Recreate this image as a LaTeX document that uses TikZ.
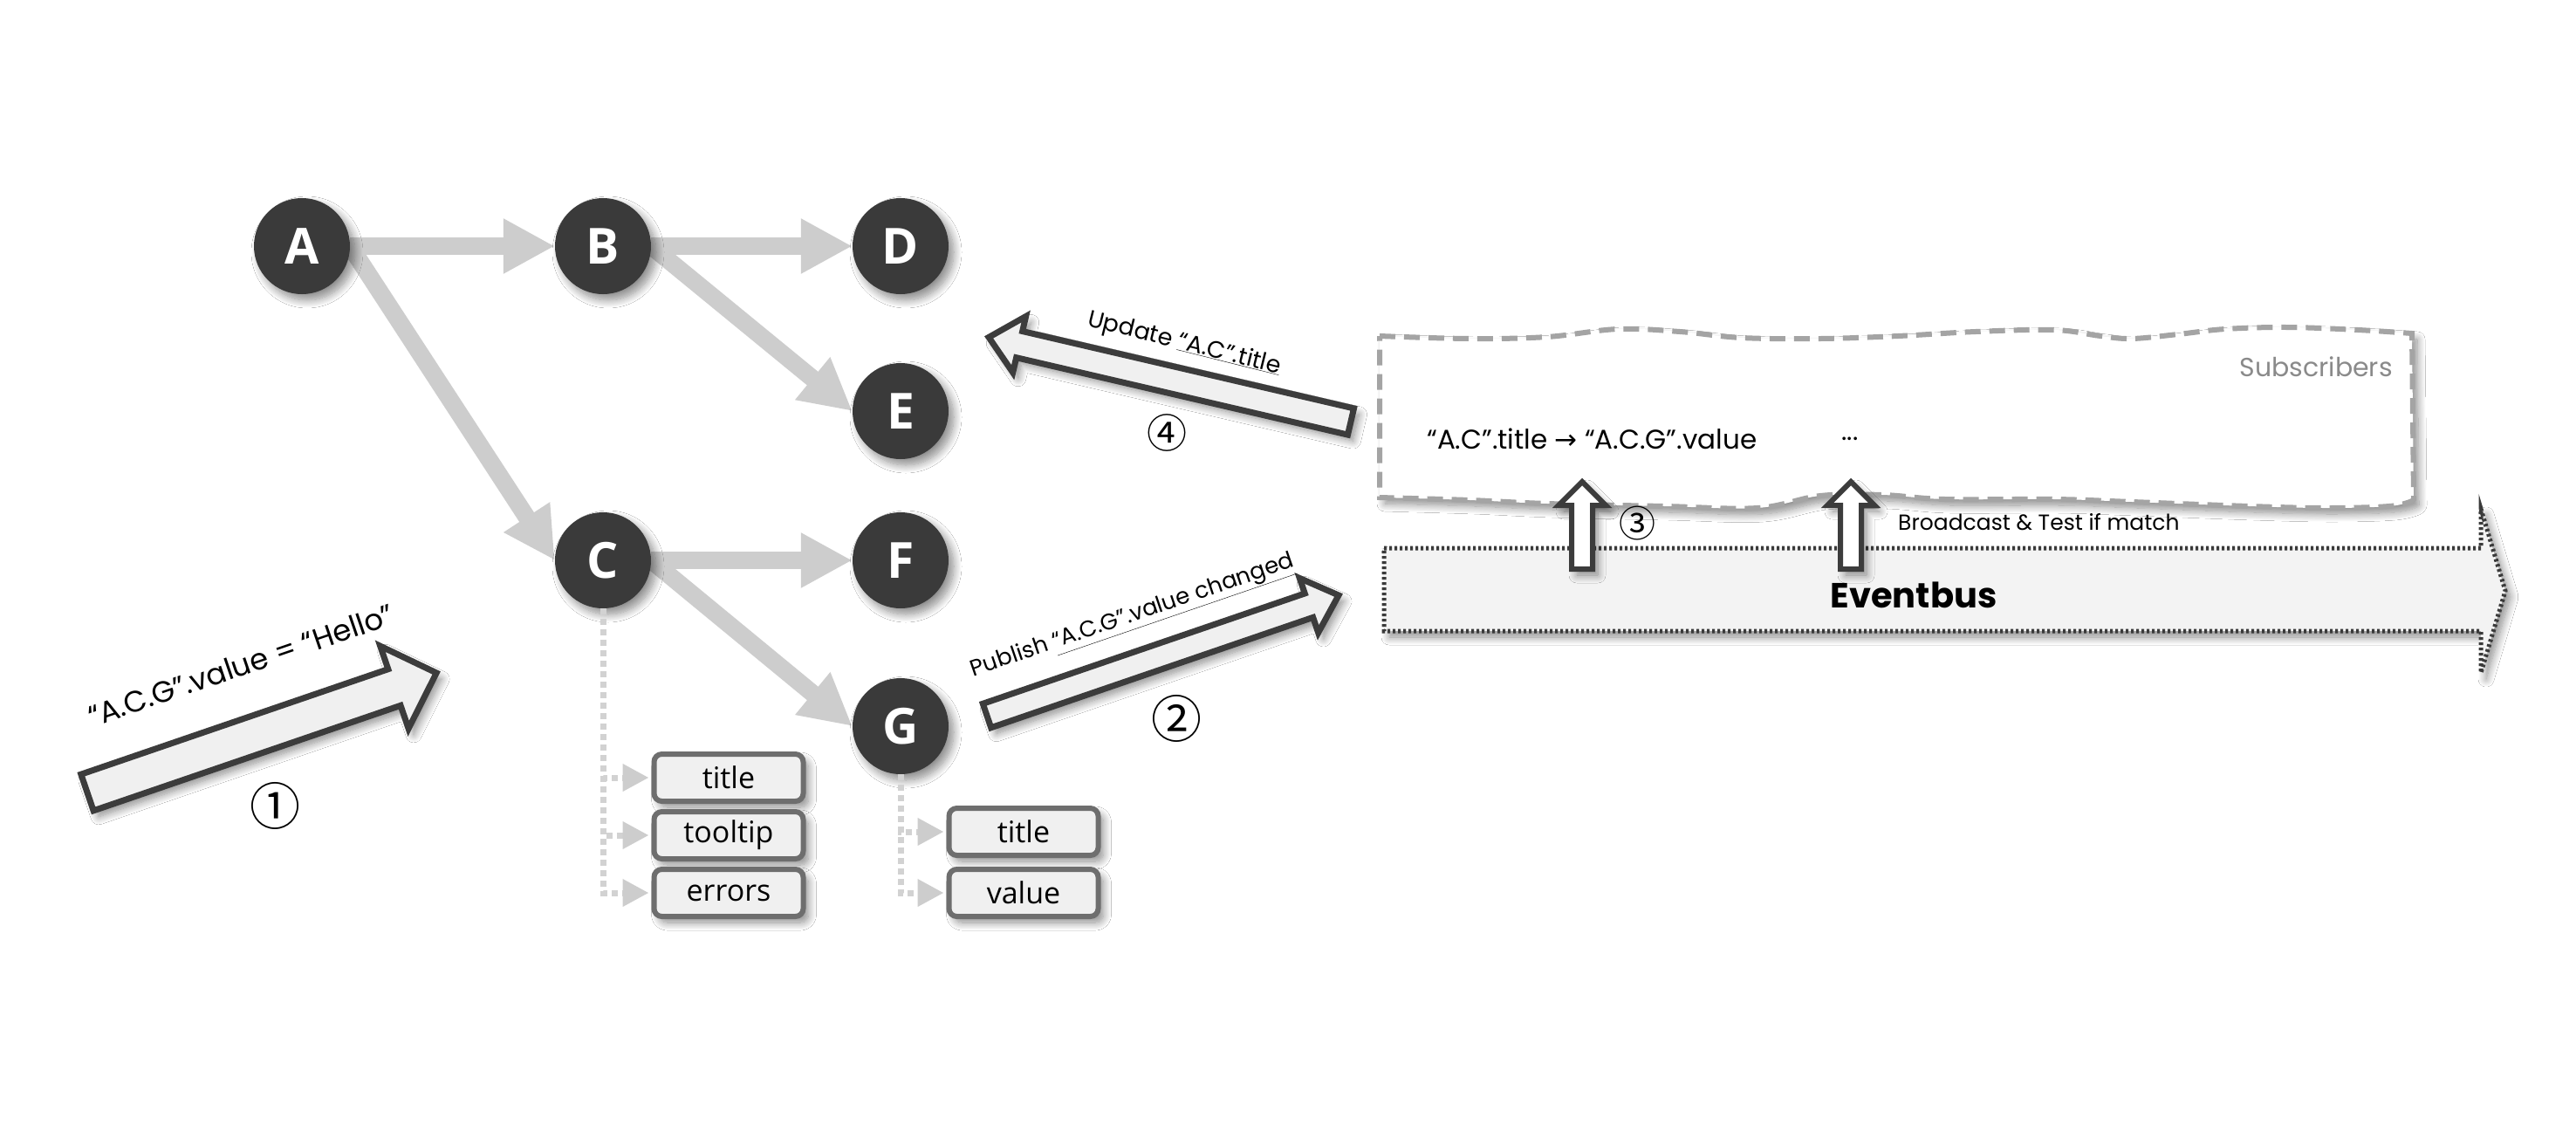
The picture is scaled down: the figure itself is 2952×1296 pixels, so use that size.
\documentclass[tikz,border=0pt]{standalone}
\usepackage{fontspec}
\setmainfont{Open Sans}
\newfontfamily\handfont{Poppins}
\newfontfamily\dejavu{DejaVu Sans}
\newfontfamily\cjk{Noto Sans CJK JP}
\usetikzlibrary{arrows.meta,shadows.blur}
\definecolor{nodedark}{HTML}{3A3A3A}
\definecolor{conn}{HTML}{CDCDCD}
\definecolor{dotgray}{HTML}{D2D2D2}
\definecolor{boxfill}{HTML}{F0F0F0}
\definecolor{boxline}{HTML}{6E6E6E}
\definecolor{outline}{HTML}{3C3C3C}
\definecolor{subgray}{HTML}{A4A4A4}
\definecolor{labgray}{HTML}{8A8A8A}
\definecolor{busline}{HTML}{3A3A3A}
\begin{document}
\begin{tikzpicture}[x=1pt,y=-1pt,
  softshadow/.style={blur shadow={shadow xshift=6pt, shadow yshift=-7pt, shadow blur radius=9pt, shadow blur steps=12, shadow opacity=45}},
  gshape/.style={circle, minimum size=110pt, inner sep=0pt},
  gnode/.style={gshape, fill=nodedark, text=white, font=\fontsize{57}{60}\selectfont\bfseries, softshadow},
  gconn/.style={draw=conn, line width=20pt, -{Triangle[length=59pt,width=59pt]}},
  attr/.style={rectangle, rounded corners=9pt, draw=boxline, line width=6pt, fill=boxfill, minimum width=171pt, minimum height=54pt, inner sep=0pt, font=\fontsize{34}{36}\selectfont, softshadow},
  dotconn/.style={draw=dotgray, line width=7pt, dash pattern=on 7pt off 5pt, shorten >=3pt, -{Triangle[length=30pt,width=30pt,color=conn]}},
  bigarrow/.style={draw=outline, line width=7pt, fill=boxfill, miter limit=10, softshadow},
  uparrow/.style={draw=outline, line width=6pt, fill=white, miter limit=10, softshadow},
  handtext/.style={font=\handfont\fontsize{#1}{#1}\selectfont, inner sep=0pt},
  circnum/.style={font=\cjk\fontsize{#1}{#1}\selectfont, inner sep=0pt},
  subbox/.style={draw=subgray, line width=6pt, dash pattern=on 18pt off 10pt, fill=white, softshadow},
  evbus/.style={draw=busline, line width=5pt, dash pattern=on 3pt off 3pt, fill=boxfill!80!white, softshadow},
]
\useasboundingbox[fill=white] (0,0) rectangle (2952,1296);

% node outlines (positions) first, so connectors pass under the discs
\node[gshape] (A) at (346,282) {};
\node[gshape] (B) at (691,282) {};
\node[gshape] (D) at (1032,282) {};
\node[gshape] (E) at (1032,471) {};
\node[gshape] (C) at (691,642) {};
\node[gshape] (F) at (1032,642) {};
\node[gshape] (G) at (1032,832) {};

\draw[gconn] (A.east) -- (B.west);
\draw[gconn] (B.east) -- (D.west);
\draw[gconn] (B.east) -- (E.west);
\draw[gconn] (A.east) -- (C.west);
\draw[gconn] (C.east) -- (F.west);
\draw[gconn] (C.east) -- (G.west);

% graph nodes
\node[gnode] (Av) at (A) {A};
\node[gnode] (Bv) at (B) {B};
\node[gnode] (Dv) at (D) {D};
\node[gnode] (Ev) at (E) {E};
\node[gnode] (Cv) at (C) {C};
\node[gnode] (Fv) at (F) {F};
\node[gnode] (Gv) at (G) {G};

% attribute boxes
\node[attr] (ct) at (835,891) {title};
\node[attr] (ctt) at (835,957) {tooltip};
\node[attr] (ce) at (835,1023) {errors};
\node[attr] (gt) at (1173,953) {title};
\node[attr] (gv) at (1173,1023) {value};

\draw[dotconn] (Cv.south) |- (ct.west);
\draw[dotconn] (Cv.south) |- (ctt.west);
\draw[dotconn] (Cv.south) |- (ce.west);
\draw[dotconn] (Gv.south) |- (gt.west);
\draw[dotconn] (Gv.south) |- (gv.west);

% arrow 1
\begin{scope}[shift={(100,908)}, rotate=18.9]
\draw[bigarrow] (0pt,22pt) -- (372pt,22pt) -- (372pt,50pt) -- (423pt,0pt) -- (372pt,-50pt) -- (372pt,-22pt) -- (0pt,-22pt) -- cycle;
\end{scope}
\node[handtext=34, rotate=18.9] (t1) at (276,762) {“A.C.G”.value = “Hello”};
\node[circnum=58] (n1) at (315,923) {①};

% arrow 2
\begin{scope}[shift={(1131,820)}, rotate=18.9]
\draw[bigarrow] (0pt,14.5pt) -- (390pt,14.5pt) -- (390pt,33pt) -- (426pt,0pt) -- (390pt,-33pt) -- (390pt,-14.5pt) -- (0pt,-14.5pt) -- cycle;
\end{scope}
\node[handtext=26, rotate=18.9] (t2) at (1298,707) {Publish \underline{“A.C.G”.value changed}};
\node[circnum=58] (n2) at (1348,823) {②};

% arrow 4
\begin{scope}[shift={(1548,483)}, rotate=166.9]
\draw[bigarrow] (0pt,15.5pt) -- (390pt,15.5pt) -- (390pt,33pt) -- (426pt,0pt) -- (390pt,-33pt) -- (390pt,-15.5pt) -- (0pt,-15.5pt) -- cycle;
\end{scope}
\node[handtext=27, rotate=-14] (t4) at (1357,394) {Update \underline{“A.C”.title}};
\node[circnum=46] (n4) at (1337,496) {④};

% eventbus
\draw[evbus] (1586,628) -- (2843,628) -- (2843,583) -- (2871,677) -- (2843,771) -- (2843,723) -- (1586,723) -- cycle;
\node[handtext=40, font=\handfont\bfseries\fontsize{40}{40}\selectfont] (eb) at (2193,682) {Eventbus};

% subscribers box
\draw[subbox] plot[smooth,tension=0.6] coordinates {(1581,385) (1684,388) (1773,386) (1854,377) (1925,380) (1996,387) (2086,388) (2175,385) (2264,380) (2354,378) (2407,385) (2443,388) (2496,383) (2550,377) (2621,375) (2702,378) (2764,382)}
  -- (2766,572)
  -- plot[smooth,tension=0.6] coordinates {(2764,574) (2738,580) (2666,582) (2577,580) (2443,575) (2354,572) (2229,572) (2157,567) (2086,568) (2014,582) (1907,580) (1773,577) (1684,573) (1581,570)}
  -- cycle;
\node[handtext=30, text=labgray, anchor=east] (sublab) at (2742,420) {Subscribers};
\node[handtext=31, anchor=west] (sub1) at (1635,503) {“A.C”.title {\dejavu →} “A.C.G”.value};
\node[handtext=30] (sub2) at (2120,503) {...};

% up arrows
\begin{scope}[shift={(1813,652)}, rotate=90]
\draw[uparrow] (0pt,12pt) -- (73pt,12pt) -- (73pt,27pt) -- (100pt,0pt) -- (73pt,-27pt) -- (73pt,-12pt) -- (0pt,-12pt) -- cycle;
\end{scope}
\begin{scope}[shift={(2121,652)}, rotate=90]
\draw[uparrow] (0pt,12pt) -- (73pt,12pt) -- (73pt,27pt) -- (100pt,0pt) -- (73pt,-27pt) -- (73pt,-12pt) -- (0pt,-12pt) -- cycle;
\end{scope}
\node[circnum=42] (n3) at (1876,600) {③};
\node[handtext=25, anchor=west] (bc) at (2175,598) {Broadcast \& Test if match};
\end{tikzpicture}
\end{document}
